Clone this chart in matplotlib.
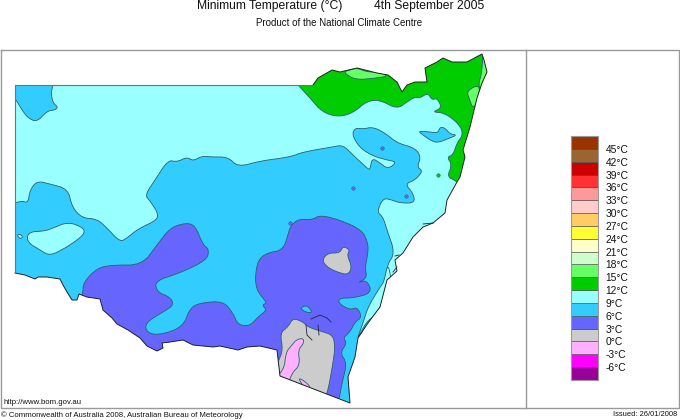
# minimum temperature map, NSW, traced in image pixel coords
import matplotlib
matplotlib.use('Agg')
import matplotlib.pyplot as plt
from matplotlib.patches import Polygon

plt.rcParams['font.family'] = ['Liberation Sans', 'DejaVu Sans']

title = "Minimum Temperature (\u00b0C)"
date_label = "4th September 2005"
subtitle = "Product of the National Climate Centre"
copyright_label = "\u00a9 Commonwealth of Australia 2008, Australian Bureau of Meteorology"
issued_label = "Issued: 26/01/2008"
url_label = "http://www.bom.gov.au"

legend_levels = [45, 42, 39, 36, 33, 30, 27, 24, 21, 18, 15, 12, 9, 6, 3, 0, -3, -6]
legend_colours = ['#993300', '#996633', '#cc0000', '#ff3333', '#ff9999', '#ffcccc',
                  '#ffcc66', '#ffff33', '#ffffcc', '#ccffcc', '#66ff66', '#00cc00',
                  '#99ffff', '#33ccff', '#6666ff', '#cccccc', '#ffb0ff', '#ff00ff', '#990099']

C15, C12, C9, C6, C3, C0, CM3 = '#66ff66', '#00cc00', '#99ffff', '#33ccff', '#6666ff', '#cccccc', '#ffb0ff'

state_outline = [(15,85),(298,85),(313,85),(318,78),(332,70),(340,72),(357,68),(377,73),(388,75),
    (397,82),(402,92),(407,85),(415,82),(427,82),(425,68),(437,62),(443,58),(452,62),(467,62),
    (482,54),(484,60),(487,72),(482,83),(477,98),(470,127),(463,150),(465,157),(460,177),(457,182),
    (447,200),(445,213),(433,223),(423,227),(413,237),(403,253),(395,260),(397,271),(387,280),(380,307),
    (368,323),(358,338),(355,357),(348,377),(350,403),(280,376),(277,350),(260,346),(247,347),(238,350),
    (220,346),(213,347),(193,345),(183,340),(170,342),(162,343),(163,348),(157,351),(147,346),(140,338),
    (128,330),(117,324),(112,318),(103,310),(100,299),(87,297),(79,294),(77,300),(72,300),(67,292),
    (63,285),(60,279),(47,277),(38,277),(35,279),(25,275),(15,273)]

band_nw = [(5,75),(53,75),(53,85),(51,93),(53,103),(58,107),(55,110),(47,111),(37,122),(28,118),(22,110),(15,98),(5,90)]

band_main = [(5,203),(15,203),(22,201),(28,203),(30,190),(37,181),(50,184),(68,189),(72,207),(82,218),(97,219),
    (107,228),(120,242),(127,238),(138,229),(157,220),(158,213),(150,201),(145,195),(155,180),(168,160),
    (177,162),(187,157),(193,161),(202,156),(212,157),(228,157),(238,167),(260,161),(290,157),(303,152),
    (332,147),(343,145),(353,155),(367,168),(370,170),(372,158),(380,163),(388,169),(397,162),(387,160),
    (373,156),(360,148),(352,135),(355,128),(363,129),(373,127),(385,133),(397,143),(415,148),(421,157),
    (417,167),(423,171),(415,180),(405,184),(413,193),(415,203),(400,203),(392,200),(383,198),(377,212),
    (383,217),(387,230),(395,253),(387,265),(387,280),(400,300),(370,420),(260,390),(100,350),(5,290)]

# later layers sit on top of band_main
lake_west = [(28,232),(45,231),(53,228),(68,222),(82,227),(85,232),(80,238),(67,247),(50,256),(40,250),(27,242)]
lake_small = [(17,235),(20,234),(23,237),(20,239)]
strip_coast = [(388,262),(384,282),(380,287),(368,307),(363,323),(356,342),(366,322),(376,315),(392,285)]

patch_north = [(418,131),(430,132),(438,133),(440,127),(445,128),(450,134),(457,135),(450,138),
    (437,143),(430,140),(423,135)]

band_cold = [(75,305),(83,295),(83,283),(97,268),(113,265),(142,265),(157,245),(170,228),(185,223),(195,225),
    (203,245),(209,249),(207,260),(180,273),(155,281),(157,292),(170,297),(174,305),(163,312),(145,323),
    (147,333),(160,335),(183,327),(190,308),(200,303),(223,301),(233,313),(238,325),(250,326),(258,317),
    (267,310),(262,305),(267,303),(262,297),(257,290),(255,278),(258,260),(267,253),(283,250),(288,235),
    (290,227),(298,219),(312,220),(320,215),(340,220),(362,230),(368,243),(368,253),(365,268),(367,278),
    (357,283),(367,280),(372,293),(353,298),(340,298),(338,303),(350,310),(357,307),(362,317),(355,322),
    (350,332),(343,338),(347,343),(340,353),(347,363),(342,383),(338,405),(320,420),(240,370),(100,345)]
cold_notch = [(300,308),(307,305),(313,313),(305,312)]

grey_inland = [(322,260),(328,253),(340,253),(343,246),(350,250),(347,255),(352,267),(348,275),(337,272),(327,267)]
grey_south = [(270,385),(278,362),(283,350),(280,333),(288,327),(293,318),(303,322),(308,327),(320,331),
    (333,335),(335,347),(333,363),(327,396),(320,405)]
pink_main = [(272,380),(284,370),(286,352),(292,345),(296,340),(303,338),(304,343),(298,350),(300,365),(292,373),(288,385)]
pink_small = [(298,378),(303,380),(311,387),(306,390)]

green_north = [(292,78),(298,85),(310,98),(322,112),(338,117),(353,113),(367,101),(380,100),(397,109),(407,102),
    (415,97),(420,98),(428,93),(432,100),(437,98),(442,108),(432,112),(445,113),(460,125),(463,135),
    (457,143),(453,155),(447,157),(452,165),(447,177),(457,181),(465,195),(500,140),(500,40),(300,40)]
light_ridge = [(343,72),(355,80),(377,78),(388,76),(380,72),(367,72),(357,68),(350,70)]
light_edge = [(483,50),(494,72),(483,90),(478,86),(482,72)]
light_blob = [(467,92),(473,87),(480,86),(478,100),(473,109),(469,98)]

spots = [((382,148), C3), ((353,188), C3), ((406,196), C3), ((290,223), C3), ((438,175), C12)]
contour_bits = [[(311,319),(320,315),(327,318),(331,322)], [(306,325),(307,335),(312,340)],
    [(318,325),(319,335)], [(423,224),(433,223)], [(395,256),(399,255)], [(393,272),(397,267)]]


def smooth(pts, rounds=2):
    # corner cutting so the contours are not so angular
    for _ in range(rounds):
        new = []
        for i, (x0, y0) in enumerate(pts):
            x1, y1 = pts[(i + 1) % len(pts)]
            new.append((0.75*x0 + 0.25*x1, 0.75*y0 + 0.25*y1))
            new.append((0.25*x0 + 0.75*x1, 0.25*y0 + 0.75*y1))
        pts = new
    return pts


fig = plt.figure(figsize=(6.8, 4.2), dpi=100)
ax = fig.add_axes([0, 0, 1, 1])
ax.set_xlim(0, 680)
ax.set_ylim(420, 0)
ax.axis('off')

# frame
frame_col = '#999999'
ax.plot([1, 679, 679, 1, 1], [50, 50, 408, 408, 50], color=frame_col, lw=1)
ax.plot([526, 526], [50, 408], color=frame_col, lw=1)

clip = Polygon(state_outline, closed=True, transform=ax.transData)
ax.add_patch(Polygon(state_outline, closed=True, facecolor=C9, edgecolor='none'))

layers = [(band_nw, C6), (band_main, C6), (lake_west, C9), (lake_small, C9), (strip_coast, C9),
          (patch_north, C6), (green_north, C12), (light_ridge, C15), (light_edge, C15), (light_blob, C15),
          (band_cold, C3), (cold_notch, C6), (grey_inland, C0), (grey_south, C0),
          (pink_main, CM3), (pink_small, CM3)]
for pts, col in layers:
    p = Polygon(smooth(pts), closed=True, facecolor=col, edgecolor='#2b5f6b', lw=0.6)
    ax.add_patch(p)
    p.set_clip_path(clip)

for (x, y), col in spots:
    ax.plot(x, y, 'o', ms=2.5, mfc=col, mec='#334455', mew=0.3)
for seg in contour_bits:
    ax.plot(*zip(*seg), color='#222233', lw=0.6)

xs, ys = zip(*state_outline)
ax.plot(xs[2:], ys[2:], color='#222222', lw=0.7)
ax.plot([15, 15, 313], [273, 85, 85], color='#667777', lw=0.8)

# text
ax.text(197, 9, title, fontsize=8.7, va='baseline', color='#111111')
ax.text(374, 9, date_label, fontsize=8.7, va='baseline', color='#111111')
ax.text(339, 23, subtitle, fontsize=7.0, ha='center', va='center', color='#111111')
ax.text(4, 402, url_label, fontsize=5.6, va='center', color='#111111')
ax.text(1, 415, copyright_label, fontsize=5.55, va='center', color='#111111')
ax.text(677, 415, issued_label, fontsize=5.4, ha='right', va='center', color='#111111')

# colour scale, own axes in degrees
cax = fig.add_axes([571/680, 1 - 380/420, 27/680, 244/420])
edges = [lv - 3 for lv in legend_levels[::-1]] + [legend_levels[0]]
cax.bar([0] * len(edges), [3] * len(edges), bottom=edges, width=1,
        color=legend_colours[::-1], edgecolor='#444444', linewidth=0.4)
cax.set_xlim(-0.5, 0.5)
cax.set_ylim(-9, 48)
cax.set_xticks([])
cax.set_yticks(legend_levels)
cax.set_yticklabels(['%d\u00b0C' % lv for lv in legend_levels], fontsize=7.4, color='#111111')
cax.yaxis.tick_right()
cax.tick_params(axis='y', length=0, pad=5.5)
for s in cax.spines.values():
    s.set_color('#999999')
    s.set_linewidth(0.8)

fig.savefig('out.png', dpi=100)
